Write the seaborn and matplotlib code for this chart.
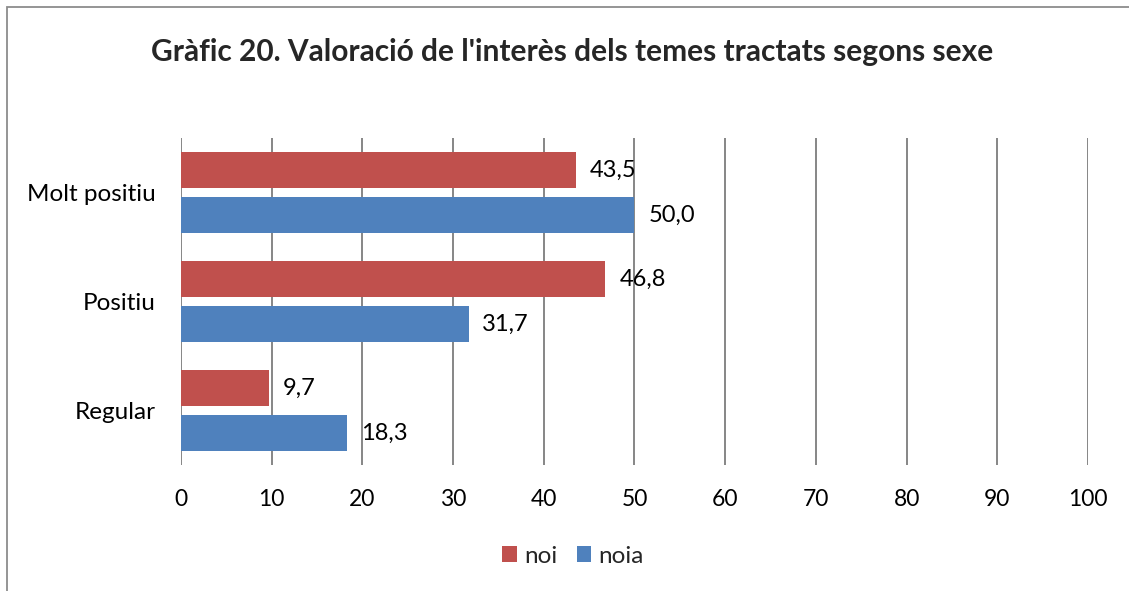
import pandas as pd
import matplotlib.pyplot as plt
import matplotlib.patches as mpatches
import seaborn as sns

# Data
categories = ["Molt positiu", "Positiu", "Regular"]
noi = [43.5, 46.8, 9.7]
noia = [50.0, 31.7, 18.3]
series_names = ["noi", "noia"]
colors = ["#C0504D", "#4F81BD"]
x_ticks = list(range(0, 101, 10))

df = pd.DataFrame({
    "categoria": categories * 2,
    "valor": noi + noia,
    "sexe": [series_names[0]] * len(categories) + [series_names[1]] * len(categories),
})

sns.set_theme(style="white")
plt.rcParams["font.family"] = ["Lato", "DejaVu Sans"]

fig = plt.figure(figsize=(11.29, 5.91), dpi=100)
ax = fig.add_axes([0.1603, 0.2132, 0.8034, 0.5533])

sns.barplot(data=df, y="categoria", x="valor", hue="sexe", orient="h",
            palette=colors, width=0.826, gap=0.2, saturation=1, linewidth=0,
            order=categories, hue_order=series_names, ax=ax)

# Data labels with comma decimals
for cont in ax.containers:
    vals = [b.get_width() for b in cont]
    ax.bar_label(cont, labels=[f"{v:.1f}".replace(".", ",") for v in vals],
                 padding=10, fontsize=17, color="black")

ax.set_xlim(0, 100)
ax.set_xticks(x_ticks)
ax.set_xlabel("")
ax.set_ylabel("")
ax.grid(axis="x", color="#868686", linewidth=1.4)
ax.grid(axis="y", visible=False)
ax.set_axisbelow(True)
for s in ax.spines.values():
    s.set_visible(False)
ax.tick_params(axis="x", length=0, pad=17, labelsize=16.5, colors="black")
ax.tick_params(axis="y", length=0, pad=18, labelsize=17.5, colors="black")

handles, labels = ax.get_legend_handles_labels()
ax.get_legend().remove()
fig.legend(handles, labels, loc="center", bbox_to_anchor=(0.5075, 0.059),
           ncol=2, frameon=False, fontsize=17.5, handlelength=0.6,
           handleheight=0.6, handletextpad=0.3, columnspacing=0.8)

fig.text(0.507, 0.912, "Gràfic 20. Valoració de l'interès dels temes tractats segons sexe",
         ha="center", va="center", fontsize=21.5, fontweight="bold")

# Chart-area border (partly cut off, like the reference)
fig.patches.append(mpatches.Rectangle((7 / 1129, -0.1), 1.2, 1 - 7 / 591 + 0.1,
                                      transform=fig.transFigure, fill=False,
                                      edgecolor="#8C8C8C", linewidth=1.3))

fig.savefig("out.png", dpi=100)
